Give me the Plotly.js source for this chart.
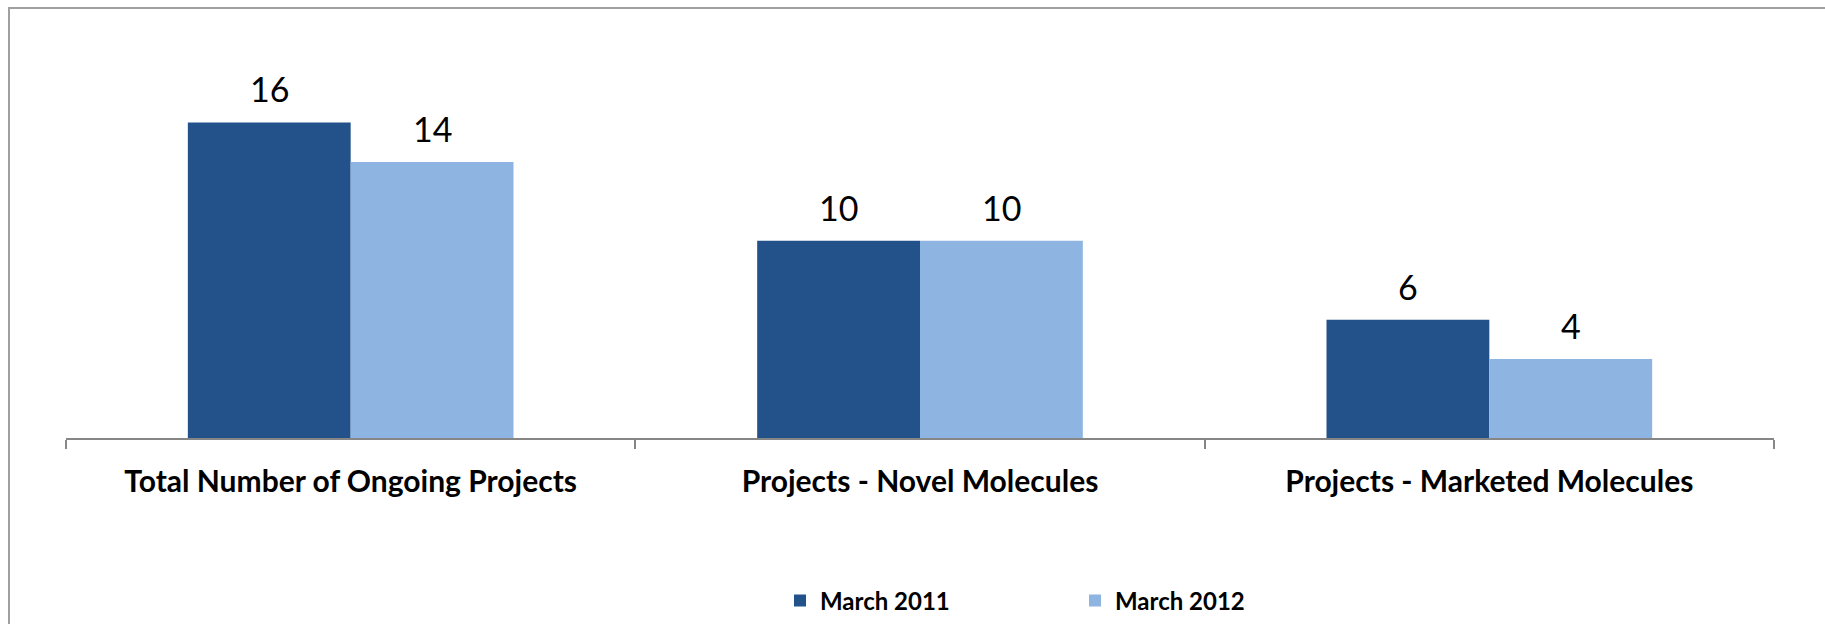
<!DOCTYPE html>
<html>
<head>
<meta charset="utf-8">
<script src="https://cdn.plot.ly/plotly-3.0.1.min.js"></script>
<style>
html,body{margin:0;padding:0;background:#fff;}
#chart{width:1825px;height:624px;}
</style>
</head>
<body>
<div id="chart"></div>
<script>
const categories = ["Total Number of Ongoing Projects", "Projects - Novel Molecules", "Projects - Marketed Molecules"];
const seriesNames = ["March 2011", "March 2012"];
const march2011 = [16, 10, 6];
const march2012 = [14, 10, 4];
const seriesValues = [march2011, march2012];
const seriesColors = ["#23528A", "#8EB4E2"];

const W = 1825, H = 624;
const m = {l: 66, r: 51, t: 83, b: 186};
const bargap = 0.428;

const traces = seriesValues.map((vals, i) => ({
  type: "bar", name: seriesNames[i], x: categories, y: vals,
  marker: {color: seriesColors[i]}, hoverinfo: "none"
}));

// bar width in pixels, derived from the axis length and bargap
const plotW = W - m.l - m.r;
const barPx = plotW / categories.length * (1 - bargap) / seriesValues.length;

const annotations = [];
seriesValues.forEach((vals, i) => {
  vals.forEach((v, j) => {
    annotations.push({
      xref: "x", yref: "y", x: categories[j], y: v,
      xshift: (i - (seriesValues.length - 1) / 2) * barPx,
      yshift: 11, yanchor: "bottom", xanchor: "center", showarrow: false,
      text: String(v), font: {family: "Lato, sans-serif", size: 34, color: "#000"}
    });
  });
});

const layout = {
  width: W, height: H,
  margin: m,
  paper_bgcolor: "#fff", plot_bgcolor: "#fff",
  barmode: "group", bargap: bargap, bargroupgap: 0,
  font: {family: "Lato, sans-serif", color: "#000"},
  xaxis: {
    type: "category", showline: true, linecolor: "#868686", linewidth: 2,
    ticks: "outside", tickson: "boundaries", ticklen: 9, tickcolor: "#868686", tickwidth: 2,
    ticklabelstandoff: 16,
    tickfont: {family: "Lato, sans-serif", size: 30, color: "#000", weight: "bold"},
    showgrid: false, zeroline: false, fixedrange: true, automargin: false
  },
  yaxis: {range: [0, 18], visible: false, fixedrange: true, automargin: false},
  showlegend: true,
  legend: {
    orientation: "h", xref: "container", yref: "container",
    x: 780 / W, xanchor: "left",
    y: (H - 601) / H, yanchor: "middle",
    font: {family: "Lato, sans-serif", size: 24, color: "#000", weight: "bold"},
    entrywidth: 250, entrywidthmode: "pixels", traceorder: "normal"
  },
  annotations: annotations,
  shapes: [{
    type: "rect", xref: "paper", yref: "paper",
    x0: -(m.l - 9) / plotW, x1: (W + 20 - m.l) / plotW,
    y0: -(H + 20 - (H - m.b)) / (H - m.t - m.b), y1: 1 + (m.t - 8) / (H - m.t - m.b),
    line: {color: "#A0A0A0", width: 2}, fillcolor: "rgba(0,0,0,0)", layer: "below"
  }]
};

Plotly.newPlot("chart", traces, layout, {displayModeBar: false, staticPlot: true});
</script>
</body>
</html>
